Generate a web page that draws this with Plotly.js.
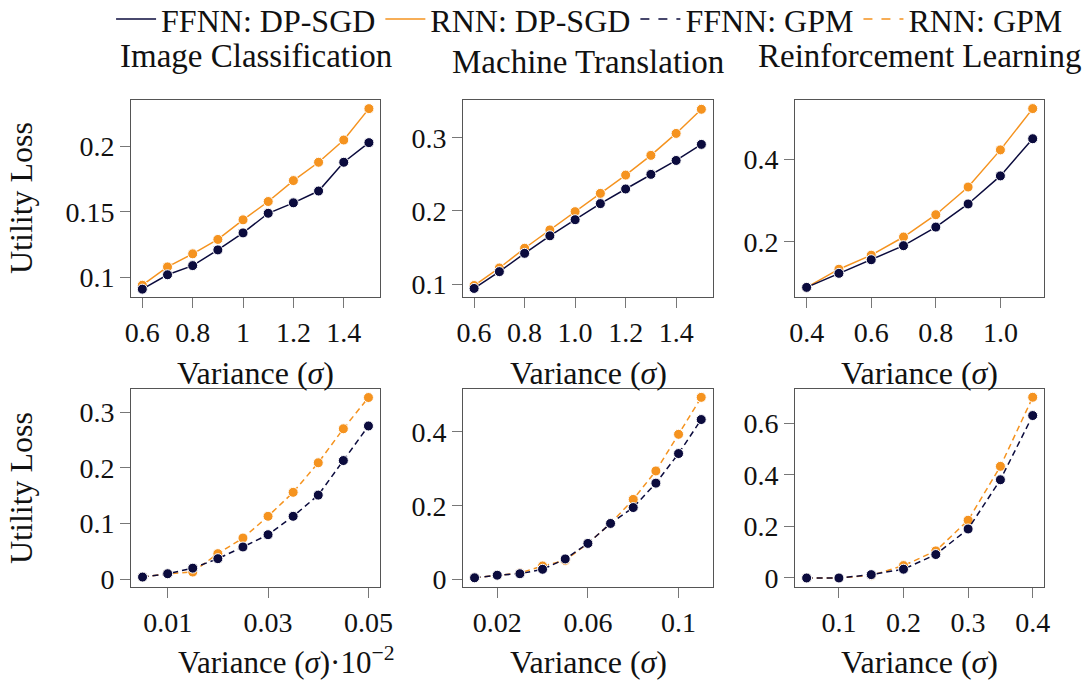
<!DOCTYPE html>
<html>
<head>
<meta charset="utf-8">
<script src="https://cdn.plot.ly/plotly-3.0.1.min.js"></script>
<style>html,body{margin:0;padding:0;background:#fff;}#chart{width:1089px;height:684px;}</style>
</head>
<body>
<div id="chart"></div>
<script>
// ---- data ----
const icX = [0.6, 0.7, 0.8, 0.9, 1.0, 1.1, 1.2, 1.3, 1.4, 1.5];
const icFfnnDp = [0.091, 0.102, 0.109, 0.121, 0.134, 0.149, 0.157, 0.166, 0.188, 0.203];
const icRnnDp  = [0.094, 0.108, 0.118, 0.129, 0.144, 0.158, 0.174, 0.188, 0.205, 0.229];

const mtX = [0.6, 0.7, 0.8, 0.9, 1.0, 1.1, 1.2, 1.3, 1.4, 1.5];
const mtFfnnDp = [0.094, 0.117, 0.142, 0.166, 0.188, 0.210, 0.230, 0.250, 0.269, 0.291];
const mtRnnDp  = [0.098, 0.122, 0.149, 0.174, 0.199, 0.224, 0.249, 0.276, 0.306, 0.339];

const rlX = [0.4, 0.5, 0.6, 0.7, 0.8, 0.9, 1.0, 1.1];
const rlFfnnDp = [0.090, 0.124, 0.157, 0.191, 0.236, 0.292, 0.360, 0.450];
const rlRnnDp  = [0.090, 0.134, 0.168, 0.212, 0.266, 0.333, 0.423, 0.523];

const icGX = [0.005, 0.01, 0.015, 0.02, 0.025, 0.03, 0.035, 0.04, 0.045, 0.05];
const icFfnnGpm = [0.004, 0.010, 0.020, 0.037, 0.058, 0.080, 0.113, 0.151, 0.213, 0.275];
const icRnnGpm  = [0.004, 0.010, 0.013, 0.046, 0.074, 0.113, 0.156, 0.209, 0.270, 0.326];

const mtGX = [0.01, 0.02, 0.03, 0.04, 0.05, 0.06, 0.07, 0.08, 0.09, 0.10, 0.11];
const mtFfnnGpm = [0.005, 0.012, 0.016, 0.028, 0.056, 0.098, 0.152, 0.195, 0.261, 0.341, 0.433];
const mtRnnGpm  = [0.005, 0.012, 0.018, 0.037, 0.052, 0.098, 0.152, 0.217, 0.294, 0.393, 0.493];

const rlGX = [0.05, 0.1, 0.15, 0.2, 0.25, 0.3, 0.35, 0.4];
const rlFfnnGpm = [0.000, 0.000, 0.013, 0.034, 0.091, 0.190, 0.381, 0.630];
const rlRnnGpm  = [0.000, 0.000, 0.010, 0.048, 0.105, 0.224, 0.433, 0.701];

const seriesNames = ["FFNN: DP-SGD", "RNN: DP-SGD", "FFNN: GPM", "RNN: GPM"];
const colTitles = ["Image Classification", "Machine Translation", "Reinforcement Learning"];
const xTitle = "Variance (<i>σ</i>)";
const xTitleScaled = "Variance (<i>σ</i>)·10<sup>−2</sup>";
const yTitle = "Utility Loss";

const xTicks = [
  {vals: [0.6, 0.8, 1.0, 1.2, 1.4], text: ["0.6", "0.8", "1", "1.2", "1.4"]},
  {vals: [0.6, 0.8, 1.0, 1.2, 1.4], text: ["0.6", "0.8", "1.0", "1.2", "1.4"]},
  {vals: [0.4, 0.6, 0.8, 1.0], text: ["0.4", "0.6", "0.8", "1.0"]},
  {vals: [0.01, 0.03, 0.05], text: ["0.01", "0.03", "0.05"]},
  {vals: [0.02, 0.06, 0.1], text: ["0.02", "0.06", "0.1"]},
  {vals: [0.1, 0.2, 0.3, 0.4], text: ["0.1", "0.2", "0.3", "0.4"]}
];
const yTicks = [
  {vals: [0.1, 0.15, 0.2], text: ["0.1", "0.15", "0.2"]},
  {vals: [0.1, 0.2, 0.3], text: ["0.1", "0.2", "0.3"]},
  {vals: [0.2, 0.4], text: ["0.2", "0.4"]},
  {vals: [0, 0.1, 0.2, 0.3], text: ["0", "0.1", "0.2", "0.3"]},
  {vals: [0, 0.2, 0.4], text: ["0", "0.2", "0.4"]},
  {vals: [0, 0.2, 0.4, 0.6], text: ["0", "0.2", "0.4", "0.6"]}
];

// ---- styling / layout ----
const NAVY = "#0b0b3d";
const ORANGE = "#f5931f";
const FONT = "'Liberation Serif', 'Times New Roman', serif";
const xRanges = [[0.555, 1.544], [0.556, 1.546], [0.364, 1.135], [0.0027, 0.0523], [0.0049, 0.1152], [0.032, 0.4175]];
const yRanges = [[0.085, 0.2356], [0.0823, 0.3517], [0.0667, 0.5438], [-0.0138, 0.3413], [-0.0199, 0.5156], [-0.035, 0.733]];
const W = 1089, H = 684;
const colPx = [[131, 380], [463, 713], [795, 1044]];
const rowPx = [[100, 297], [389, 587]];

const panels = [
  {x: icX, a: icFfnnDp, b: icRnnDp, dash: "solid"},
  {x: mtX, a: mtFfnnDp, b: mtRnnDp, dash: "solid"},
  {x: rlX, a: rlFfnnDp, b: rlRnnDp, dash: "solid"},
  {x: icGX, a: icFfnnGpm, b: icRnnGpm, dash: "6px,4px"},
  {x: mtGX, a: mtFfnnGpm, b: mtRnnGpm, dash: "6px,4px"},
  {x: rlGX, a: rlFfnnGpm, b: rlRnnGpm, dash: "6px,4px"}
];

const traces = [];
const layout = {
  width: W, height: H, autosize: false,
  margin: {l: 0, r: 0, t: 0, b: 0, autoexpand: false},
  paper_bgcolor: "#fff", plot_bgcolor: "#fff",
  font: {family: FONT, size: 28, color: "#111"},
  showlegend: true,
  legend: {
    orientation: "h", x: 0.102, xanchor: "left", y: 1.012, yanchor: "top",
    font: {family: FONT, size: 32, color: "#111"},
    bgcolor: "rgba(0,0,0,0)", tracegroupgap: 0, itemwidth: 40
  },
  annotations: []
};

panels.forEach((p, i) => {
  const n = i + 1;
  const xa = n === 1 ? "x" : "x" + n;
  const ya = n === 1 ? "y" : "y" + n;
  const col = i % 3, row = Math.floor(i / 3);
  traces.push({
    type: "scatter", mode: "lines+markers", x: p.x, y: p.b, xaxis: xa, yaxis: ya,
    showlegend: false, cliponaxis: false,
    line: {color: ORANGE, width: 1.5, dash: p.dash},
    marker: {color: ORANGE, size: 10, line: {color: "#fff", width: 1}}
  });
  traces.push({
    type: "scatter", mode: "lines+markers", x: p.x, y: p.a, xaxis: xa, yaxis: ya,
    showlegend: false, cliponaxis: false,
    line: {color: NAVY, width: 1.5, dash: p.dash},
    marker: {color: NAVY, size: 10, line: {color: "#fff", width: 1}}
  });
  const axCommon = {
    showline: true, mirror: true, linecolor: "#555", linewidth: 1,
    showgrid: false, zeroline: false, ticks: "outside", ticklen: 10,
    tickcolor: "#777", tickwidth: 1, tickfont: {family: FONT, size: 28, color: "#111"}
  };
  layout["xaxis" + (n === 1 ? "" : n)] = Object.assign({}, axCommon, {
    domain: [colPx[col][0] / W, colPx[col][1] / W], anchor: ya,
    range: xRanges[i], tickmode: "array", tickvals: xTicks[i].vals, ticktext: xTicks[i].text
  });
  layout["yaxis" + (n === 1 ? "" : n)] = Object.assign({}, axCommon, {
    domain: [1 - rowPx[row][1] / H, 1 - rowPx[row][0] / H], anchor: xa,
    range: yRanges[i], tickmode: "array", tickvals: yTicks[i].vals, ticktext: yTicks[i].text
  });
  // x-axis title
  if (i === 3) {
    layout.annotations.push({
      xref: "paper", yref: "paper", x: 176 / W, y: 1 - 660 / H, xanchor: "left", yanchor: "middle",
      text: xTitleScaled, showarrow: false, font: {family: FONT, size: 31, color: "#111"}
    });
  } else {
    layout.annotations.push({
      xref: "paper", yref: "paper", x: (colPx[col][0] + colPx[col][1]) / 2 / W,
      y: 1 - (row === 0 ? 373 : 662) / H, xanchor: "center", yanchor: "middle",
      text: xTitle, showarrow: false, font: {family: FONT, size: 32, color: "#111"}
    });
  }
});

// legend-only traces
[[NAVY, "solid"], [ORANGE, "solid"], [NAVY, "dash"], [ORANGE, "dash"]].forEach((s, k) => {
  traces.push({
    type: "scatter", mode: "lines", x: [null], y: [null], name: seriesNames[k],
    line: {color: s[0], width: 1.5, dash: s[1]}, showlegend: true
  });
});

// column titles
const titleY = [56, 62, 56];
colTitles.forEach((t, c) => {
  layout.annotations.push({
    xref: "paper", yref: "paper", x: (colPx[c][0] + colPx[c][1]) / 2 / W, y: 1 - titleY[c] / H,
    xanchor: "center", yanchor: "middle", text: t, showarrow: false,
    font: {family: FONT, size: 33, color: "#111"}
  });
});
// y titles
[198, 488].forEach(yc => {
  layout.annotations.push({
    xref: "paper", yref: "paper", x: 21 / W, y: 1 - yc / H, xanchor: "center", yanchor: "middle",
    text: yTitle, textangle: -90, showarrow: false, font: {family: FONT, size: 32, color: "#111"}
  });
});

Plotly.newPlot("chart", traces, layout, {displayModeBar: false, staticPlot: true});
</script>
</body>
</html>
